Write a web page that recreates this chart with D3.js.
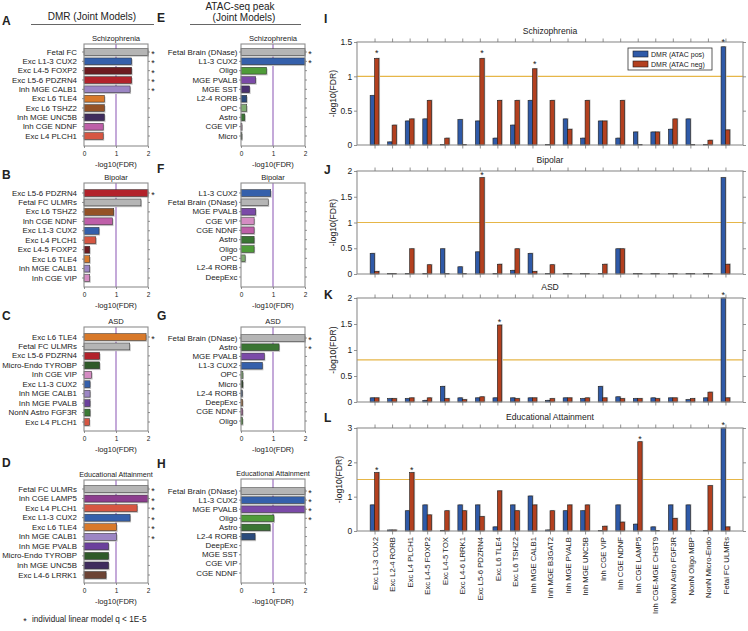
<!DOCTYPE html>
<html><head><meta charset="utf-8">
<script src="https://cdn.jsdelivr.net/npm/d3@7"></script>
<style>
body{margin:0;background:#fff}
svg{display:block}
text{font-family:"Liberation Sans",Arial,Helvetica,sans-serif;fill:#222}
</style>
</head><body>
<svg id="c" width="748" height="631"></svg>
<script>
// ---------------- DATA ----------------
// DMR joint models (A-D)
const dmrSczLabels = ["Fetal FC","Exc L1-3 CUX2","Exc L4-5 FOXP2","Exc L5-6 PDZRN4","Inh MGE CALB1","Exc L6 TLE4","Exc L6 TSHZ2","Inh MGE UNC5B","Inh CGE NDNF","Exc L4 PLCH1"];
const dmrSczValues = [2.3,1.49,1.49,1.49,1.44,0.64,0.64,0.64,0.60,0.60];
const dmrSczStars  = [1,1,1,1,1,0,0,0,0,0];

const dmrBipLabels = ["Exc L5-6 PDZRN4","Fetal FC ULMRs","Exc L6 TSHZ2","Inh CGE NDNF","Exc L1-3 CUX2","Exc L4 PLCH1","Exc L4-5 FOXP2","Exc L6 TLE4","Inh MGE CALB1","Inh CGE VIP"];
const dmrBipValues = [2.2,1.78,0.93,0.89,0.47,0.37,0.18,0.18,0.18,0.18];
const dmrBipStars  = [1,0,0,0,0,0,0,0,0,0];

const dmrAsdLabels = ["Exc L6 TLE4","Fetal FC ULMRs","Exc L5-6 PDZRN4","Micro-Endo TYROBP","Inh CGE VIP","Exc L1-3 CUX2","Inh MGE CALB1","Inh MGE PVALB","NonN Astro FGF3R","Exc L4 PLCH1"];
const dmrAsdValues = [1.94,1.43,0.49,0.49,0.24,0.19,0.19,0.19,0.19,0.17];
const dmrAsdStars  = [1,0,0,0,0,0,0,0,0,0];

const dmrEaLabels = ["Fetal FC ULMRs","Inh CGE LAMP5","Exc L4 PLCH1","Exc L1-3 CUX2","Exc L6 TLE4","Inh MGE CALB1","Inh MGE PVALB","Micro-Endo TYROBP","Inh MGE UNC5B","Exc L4-6 LRRK1"];
const dmrEaValues = [2.3,2.1,1.66,1.44,1.02,1.02,0.77,0.77,0.77,0.69];
const dmrEaStars  = [1,1,1,1,1,1,0,0,0,0];

// ATAC-seq peak joint models (E-H)
const atacSczLabels = ["Fetal Brain (DNase)","L1-3 CUX2","Oligo","MGE PVALB","MGE SST","L2-4 RORB","OPC","Astro","CGE VIP","Micro"];
const atacSczValues = [2.3,2.2,0.80,0.46,0.27,0.18,0.18,0.12,0.03,0.03];
const atacSczStars  = [1,1,0,0,0,0,0,0,0,0];

const atacBipLabels = ["L1-3 CUX2","Fetal Brain (DNase)","MGE PVALB","CGE VIP","CGE NDNF","Astro","Oligo","OPC","L2-4 RORB","DeepExc"];
const atacBipValues = [0.93,0.85,0.46,0.41,0.41,0.41,0.41,0.13,0,0];
const atacBipStars  = [0,0,0,0,0,0,0,0,0,0];

const atacAsdLabels = ["Fetal Brain (DNase)","Astro","MGE PVALB","L1-3 CUX2","OPC","Micro","L2-4 RORB","DeepExc","CGE NDNF","Oligo"];
const atacAsdValues = [2.3,1.19,0.73,0.67,0.06,0.06,0.04,0.05,0.05,0.05];
const atacAsdStars  = [1,1,0,0,0,0,0,0,0,0];

const atacEaLabels = ["Fetal Brain (DNase)","L1-3 CUX2","MGE PVALB","Oligo","Astro","L2-4 RORB","DeepExc","MGE SST","CGE VIP","CGE NDNF"];
const atacEaValues = [2.3,2.2,2.2,1.03,0.91,0.44,0,0,0,0];
const atacEaStars  = [1,1,1,1,0,0,0,0,0,0];

// DMR split by ATAC overlap (I-L)
const cellTypes = ["Exc L1-3 CUX2","Exc L2-4 RORB","Exc L4 PLCH1","Exc L4-5 FOXP2","Exc L4-5 TOX","Exc L4-6 LRRK1","Exc L5-6 PDZRN4","Exc L6 TLE4","Exc L6 TSHZ2","Inh MGE CALB1","Inh MGE B3GAT2","Inh MGE PVALB","Inh MGE UNC5B","Inh CGE VIP","Inh CGE NDNF","Inh CGE LAMP5","Inh CGE-MGE CHST9","NonN Astro FGF3R","NonN Oligo MBP","NonN Micro-Endo","Fetal FC ULMRs"];
const seriesNames = ["DMR (ATAC pos)","DMR (ATAC neg)"];

const sczPos = [0.72,0.045,0.35,0.38,0,0.37,0.35,0.10,0.29,0.65,0,0.38,0.10,0.35,0.10,0.19,0.19,0.23,0.38,0,1.43];
const sczNeg = [1.26,0.29,0.38,0.65,0.10,0,1.26,0.65,0.65,1.11,0.65,0.23,0.65,0.35,0.65,0,0.19,0.38,0,0.07,0.22];
const sczPosStars = [0,0,0,0,0,0,0,0,0,0,0,0,0,0,0,0,0,0,0,0,1];
const sczNegStars = [1,0,0,0,0,0,1,0,0,1,0,0,0,0,0,0,0,0,0,0,0];

const bipPos = [0.40,0,0,0,0.49,0.14,0.43,0,0.07,0.40,0,0,0,0,0.49,0,0,0,0,0,1.87];
const bipNeg = [0.05,0,0.49,0.18,0,0,1.87,0.19,0.49,0.05,0.18,0,0,0.19,0.49,0,0,0,0,0,0.19];
const bipPosStars = [0,0,0,0,0,0,0,0,0,0,0,0,0,0,0,0,0,0,0,0,0];
const bipNegStars = [0,0,0,0,0,0,1,0,0,0,0,0,0,0,0,0,0,0,0,0,0];

const asdPos = [0.08,0.065,0.065,0.03,0.30,0.08,0.08,0.08,0.08,0.08,0.03,0.08,0.065,0.30,0.10,0.065,0.08,0.08,0.045,0.08,2.4];
const asdNeg = [0.08,0.065,0.08,0.08,0.065,0.045,0.10,1.48,0.065,0.08,0.065,0.08,0.08,0.08,0.065,0.065,0.065,0.08,0.065,0.19,0.08];
const asdPosStars = [0,0,0,0,0,0,0,0,0,0,0,0,0,0,0,0,0,0,0,0,1];
const asdNegStars = [0,0,0,0,0,0,0,1,0,0,0,0,0,0,0,0,0,0,0,0,0];

const eaPos = [0.76,0.03,0.59,0.76,0.01,0.76,0.76,0.12,0.76,1.02,0.03,0.59,0.59,0,0.76,0.20,0.12,0.76,0.76,0.01,3.4];
const eaNeg = [1.70,0.03,1.70,0.47,0.59,0.59,0.42,1.17,0.59,0.76,0.59,0.76,0.76,0.14,0.26,2.60,0,0.37,0,1.32,0.12];
const eaPosStars = [0,0,0,0,0,0,0,0,0,0,0,0,0,0,0,0,0,0,0,0,1];
const eaNegStars = [1,0,1,0,0,0,0,0,0,0,0,0,0,0,0,1,0,0,0,0,0];

const hTicks = [0,1,2];
const sczTicks = [0,0.5,1,1.5];
const halfTicks = [0,0.5,1,1.5,2];
const eaTicks = [0,1,2,3];

// ---------------- STYLE ----------------
const cellColor = {
  "Fetal FC":"#b5b5b5","Fetal FC ULMRs":"#b5b5b5","Fetal Brain (DNase)":"#b5b5b5",
  "Exc L1-3 CUX2":"#3560ab","L1-3 CUX2":"#3560ab",
  "Exc L4-5 FOXP2":"#6d1b20","Exc L5-6 PDZRN4":"#b2222b",
  "Inh MGE CALB1":"#9c86c4","Exc L6 TLE4":"#d8792a","Exc L6 TSHZ2":"#945226",
  "Inh MGE UNC5B":"#3f2c5d","Inh CGE NDNF":"#be5fa8","CGE NDNF":"#be5fa8",
  "Exc L4 PLCH1":"#d65642","Inh CGE VIP":"#d58cc3","CGE VIP":"#d58cc3",
  "Micro-Endo TYROBP":"#2f5a29","Inh MGE PVALB":"#6b409c","MGE PVALB":"#7b4aa8",
  "NonN Astro FGF3R":"#3c7b35","Inh CGE LAMP5":"#8c3d8e","Exc L4-6 LRRK1":"#6c4334",
  "Oligo":"#4f9c39","MGE SST":"#4a3070","L2-4 RORB":"#2b4a7c","OPC":"#80ad72",
  "Astro":"#3a7533","Micro":"#2f4a28","DeepExc":"#b36a2a"
};
const seriesColor = ["#2f5aa8","#b3401f"];
const FONT = '"Liberation Sans",Arial,Helvetica,sans-serif';

const svg = d3.select("#c");

function txt(x, y, s, size, opts = {}) {
  const t = svg.append("text").attr("x", x).attr("y", y).text(s)
    .attr("font-size", size).attr("text-anchor", opts.anchor || "start");
  if (opts.weight) t.attr("font-weight", opts.weight);
  if (opts.fill) t.attr("fill", opts.fill);
  if (opts.rotate) t.attr("transform", `rotate(${opts.rotate},${x},${y})`);
  return t;
}

function styleAxis(g, size) {
  g.selectAll("path.domain").remove();
  g.selectAll(".tick line").attr("stroke", "#777").attr("stroke-width", 0.8);
  g.selectAll(".tick text").attr("font-size", size).attr("font-family", FONT).attr("fill", "#333");
}

// ------------- horizontal bar panels -------------
function hPanel(p) {
  const g = svg.append("g");
  const x = d3.scaleLinear().domain([0, 2]).range([p.x0, p.x1]).clamp(true);
  const n = p.labels.length;
  const step = (p.cN - p.c0) / (n - 1);
  const y = d3.scaleBand().domain(p.labels).range([p.c0 - step / 2, p.cN + step / 2])
    .paddingInner(0.27).paddingOuter(0.135);
  const bh = y.bandwidth();

  g.append("line").attr("x1", x(1)).attr("x2", x(1)).attr("y1", p.bt).attr("y2", p.bb)
    .attr("stroke", "#b08ccd").attr("stroke-width", 1.5);

  const rows = p.labels.map((l, i) => ({ l, v: p.values[i], s: p.stars[i] }));
  g.selectAll(".sh").data(rows.filter(d => d.v > 0)).join("rect")
    .attr("x", p.x0).attr("y", d => y(d.l) + 1.3)
    .attr("width", d => x(d.v) - p.x0 + 1).attr("height", bh)
    .attr("fill", "#c4c4c4");
  g.selectAll(".bar").data(rows.filter(d => d.v > 0)).join("rect")
    .attr("x", p.x0).attr("y", d => y(d.l))
    .attr("width", d => x(d.v) - p.x0).attr("height", bh)
    .attr("fill", d => cellColor[d.l]).attr("stroke", "#2a2a2a").attr("stroke-width", 0.5);

  g.append("rect").attr("x", p.x0).attr("y", p.bt).attr("width", p.x1 - p.x0).attr("height", p.bb - p.bt)
    .attr("fill", "none").attr("stroke", "#8e8e8e").attr("stroke-width", 1.1);

  const ax = g.append("g").attr("transform", `translate(${p.x0},0)`)
    .call(d3.axisLeft(y).tickSize(2).tickPadding(p.pad));
  styleAxis(ax, 7.9);
  ax.selectAll(".tick text").attr("fill", "#222");
  const axr = g.append("g").attr("transform", `translate(${p.x1},0)`)
    .call(d3.axisRight(y).tickSize(2).tickFormat(""));
  styleAxis(axr, 7);
  const axb = g.append("g").attr("transform", `translate(0,${p.bb})`)
    .call(d3.axisBottom(x).tickValues(hTicks).tickSize(2).tickPadding(3.5).tickFormat(d3.format("d")));
  styleAxis(axb, 6.5);

  txt((p.x0 + p.x1) / 2, p.bt - 3.5, p.title, p.tsize || 7.6, { anchor: "middle" });
  txt((p.x0 + p.x1) / 2, p.bb + 21, "-log10(FDR)", 7.6, { anchor: "middle" });

  rows.forEach(d => {
    if (d.s) txt(p.x1 + 5, y(d.l) + bh / 2 + 5, "*", 9, { anchor: "middle" });
  });
  txt(p.lx, p.ly, p.letter, 12, { weight: "bold", fill: "#000" });
}

const L0 = 84, L1 = 148, M0 = 241, M1 = 305;
hPanel({ letter: "A", lx: 2, ly: 25, title: "Schizophrenia", labels: dmrSczLabels, values: dmrSczValues, stars: dmrSczStars, x0: L0, x1: L1, c0: 52, cN: 136, bt: 44, bb: 146, pad: 5 });
hPanel({ letter: "B", lx: 2, ly: 179, title: "Bipolar", labels: dmrBipLabels, values: dmrBipValues, stars: dmrBipStars, x0: L0, x1: L1, c0: 193, cN: 278, bt: 183, bb: 287, pad: 5 });
hPanel({ letter: "C", lx: 2, ly: 320, title: "ASD", labels: dmrAsdLabels, values: dmrAsdValues, stars: dmrAsdStars, x0: L0, x1: L1, c0: 337, cN: 422, bt: 327, bb: 431, pad: 5 });
hPanel({ letter: "D", lx: 2, ly: 467, title: "Educational Attainment", tsize: 7.2, labels: dmrEaLabels, values: dmrEaValues, stars: dmrEaStars, x0: L0, x1: L1, c0: 489, cN: 575, bt: 480, bb: 583, pad: 5 });

hPanel({ letter: "E", lx: 157, ly: 22, title: "Schizophrenia", labels: atacSczLabels, values: atacSczValues, stars: atacSczStars, x0: M0, x1: M1, c0: 52, cN: 136, bt: 44, bb: 146, pad: 1.5 });
hPanel({ letter: "F", lx: 157, ly: 173, title: "Bipolar", labels: atacBipLabels, values: atacBipValues, stars: atacBipStars, x0: M0, x1: M1, c0: 193, cN: 277, bt: 183, bb: 287, pad: 1.5 });
hPanel({ letter: "G", lx: 157, ly: 320, title: "ASD", labels: atacAsdLabels, values: atacAsdValues, stars: atacAsdStars, x0: M0, x1: M1, c0: 338, cN: 421, bt: 327, bb: 431, pad: 1.5 });
hPanel({ letter: "H", lx: 157, ly: 468, title: "Educational Attainment", tsize: 7.2, labels: atacEaLabels, values: atacEaValues, stars: atacEaStars, x0: M0, x1: M1, c0: 491, cN: 573, bt: 479, bb: 583, pad: 1.5 });

// column headers
txt(92, 20, "DMR (Joint Models)", 10, { anchor: "middle" });
svg.append("line").attr("x1", 31).attr("x2", 154).attr("y1", 24.5).attr("y2", 24.5).attr("stroke", "#555").attr("stroke-width", 0.9);
txt(240, 10, "ATAC-seq peak", 10, { anchor: "middle" });
txt(244, 21, "(Joint Models)", 10, { anchor: "middle" });
svg.append("line").attr("x1", 190).attr("x2", 301).attr("y1", 24.5).attr("y2", 24.5).attr("stroke", "#555").attr("stroke-width", 0.9);

// footnote
txt(25, 624, "*", 9, { anchor: "middle" });
txt(32, 622, "individual linear model q < 1E-5", 8.2);

// ------------- vertical grouped bar panels -------------
const X0 = 357, X1 = 743;
const xv = d3.scaleLinear().domain([0, cellTypes.length + 1]).range([X0, X1]);
const catIdx = d3.range(1, cellTypes.length + 1);
const BW = 4.4;

function vPanel(p) {
  const g = svg.append("g");
  const y = d3.scaleLinear().domain([0, p.max]).range([p.y0, p.y1]).clamp(true);
  g.append("line").attr("x1", X0).attr("x2", X1).attr("y1", y(p.thr)).attr("y2", y(p.thr))
    .attr("stroke", "#e6b648").attr("stroke-width", 1.1);

  const bars = [];
  cellTypes.forEach((c, i) => {
    bars.push({ s: 0, i, v: p.pos[i], star: p.posStars[i] });
    bars.push({ s: 1, i, v: p.neg[i], star: p.negStars[i] });
  });
  const bx = d => xv(d.i + 1) - (d.s === 0 ? BW : 0);
  g.selectAll(".sh").data(bars.filter(d => d.v > 0)).join("rect")
    .attr("x", d => bx(d) + 1.1).attr("y", d => y(d.v) - 0.8)
    .attr("width", BW).attr("height", d => p.y0 - y(d.v) + 0.8).attr("fill", "#c6c6c6");
  g.selectAll(".bar").data(bars).join("rect")
    .attr("x", bx).attr("y", d => Math.min(y(d.v), p.y0 - 0.4))
    .attr("width", BW).attr("height", d => Math.max(0.4, p.y0 - y(d.v)))
    .attr("fill", d => seriesColor[d.s]).attr("stroke", "#1c1c1c").attr("stroke-width", 0.6);

  g.append("rect").attr("x", X0).attr("y", p.y1).attr("width", X1 - X0).attr("height", p.y0 - p.y1)
    .attr("fill", "none").attr("stroke", "#8e8e8e").attr("stroke-width", 1.1);

  const al = g.append("g").attr("transform", `translate(${X0},0)`)
    .call(d3.axisLeft(y).tickValues(p.ticks).tickSize(3).tickPadding(1.8).tickFormat(d3.format("~g")));
  styleAxis(al, 8.5);
  const ar = g.append("g").attr("transform", `translate(${X1},0)`)
    .call(d3.axisRight(y).tickValues(p.ticks).tickSize(3).tickFormat(""));
  styleAxis(ar, 8);
  const at = g.append("g").attr("transform", `translate(0,${p.y1})`)
    .call(d3.axisTop(xv).tickValues(catIdx).tickSize(3.5).tickFormat(""));
  styleAxis(at, 8);
  const ab = g.append("g").attr("transform", `translate(0,${p.y0})`)
    .call(d3.axisBottom(xv).tickValues(catIdx).tickSize(3.5).tickFormat(p.showLabels ? (d => cellTypes[d - 1]) : ""));
  styleAxis(ab, 7.7);
  if (p.showLabels) {
    ab.selectAll(".tick text").attr("text-anchor", "end").attr("fill", "#222")
      .attr("transform", "rotate(-90)").attr("x", -6).attr("y", 0).attr("dy", "0.35em");
  }

  bars.forEach(d => {
    if (d.star) txt(bx(d) + BW / 2, y(d.v) - p.so + 5, "*", 9, { anchor: "middle" });
  });

  txt((X0 + X1) / 2, p.y1 - 8, p.title, 8.6, { anchor: "middle" });
  txt(p.ylx, (p.y0 + p.y1) / 2, "-log10(FDR)", 8.6, { anchor: "middle", rotate: -90, fill: "#333" });
  txt(324, p.ly, p.letter, 12, { weight: "bold", fill: "#000" });
}

vPanel({ letter: "I", ly: 23, title: "Schizophrenia", max: 1.5, ticks: sczTicks, thr: 1, y0: 145, y1: 42, pos: sczPos, neg: sczNeg, posStars: sczPosStars, negStars: sczNegStars, so: 7, ylx: 336 });
vPanel({ letter: "J", ly: 174, title: "Bipolar", max: 2, ticks: halfTicks, thr: 1, y0: 274, y1: 171, pos: bipPos, neg: bipNeg, posStars: bipPosStars, negStars: bipNegStars, so: 5, ylx: 336 });
vPanel({ letter: "K", ly: 299, title: "ASD", max: 2, ticks: halfTicks, thr: 0.81, y0: 402, y1: 298, pos: asdPos, neg: asdNeg, posStars: asdPosStars, negStars: asdNegStars, so: 5, ylx: 336 });
vPanel({ letter: "L", ly: 422, title: "Educational Attainment", max: 3, ticks: eaTicks, thr: 1.5, y0: 531, y1: 428, pos: eaPos, neg: eaNeg, posStars: eaPosStars, negStars: eaNegStars, so: 5, ylx: 342, showLabels: true });

// legend (panel I)
const lg = svg.append("g");
lg.append("rect").attr("x", 628).attr("y", 48).attr("width", 84).attr("height", 22)
  .attr("fill", "#fff").attr("stroke", "#333").attr("stroke-width", 0.8);
seriesNames.forEach((s, i) => {
  lg.append("rect").attr("x", 633).attr("y", 51 + i * 10).attr("width", 15).attr("height", 6)
    .attr("fill", seriesColor[i]).attr("stroke", "#1c1c1c").attr("stroke-width", 0.6);
  lg.append("text").attr("x", 651).attr("y", 57 + i * 10).attr("font-size", 7).text(s);
});
</script>
</body></html>
